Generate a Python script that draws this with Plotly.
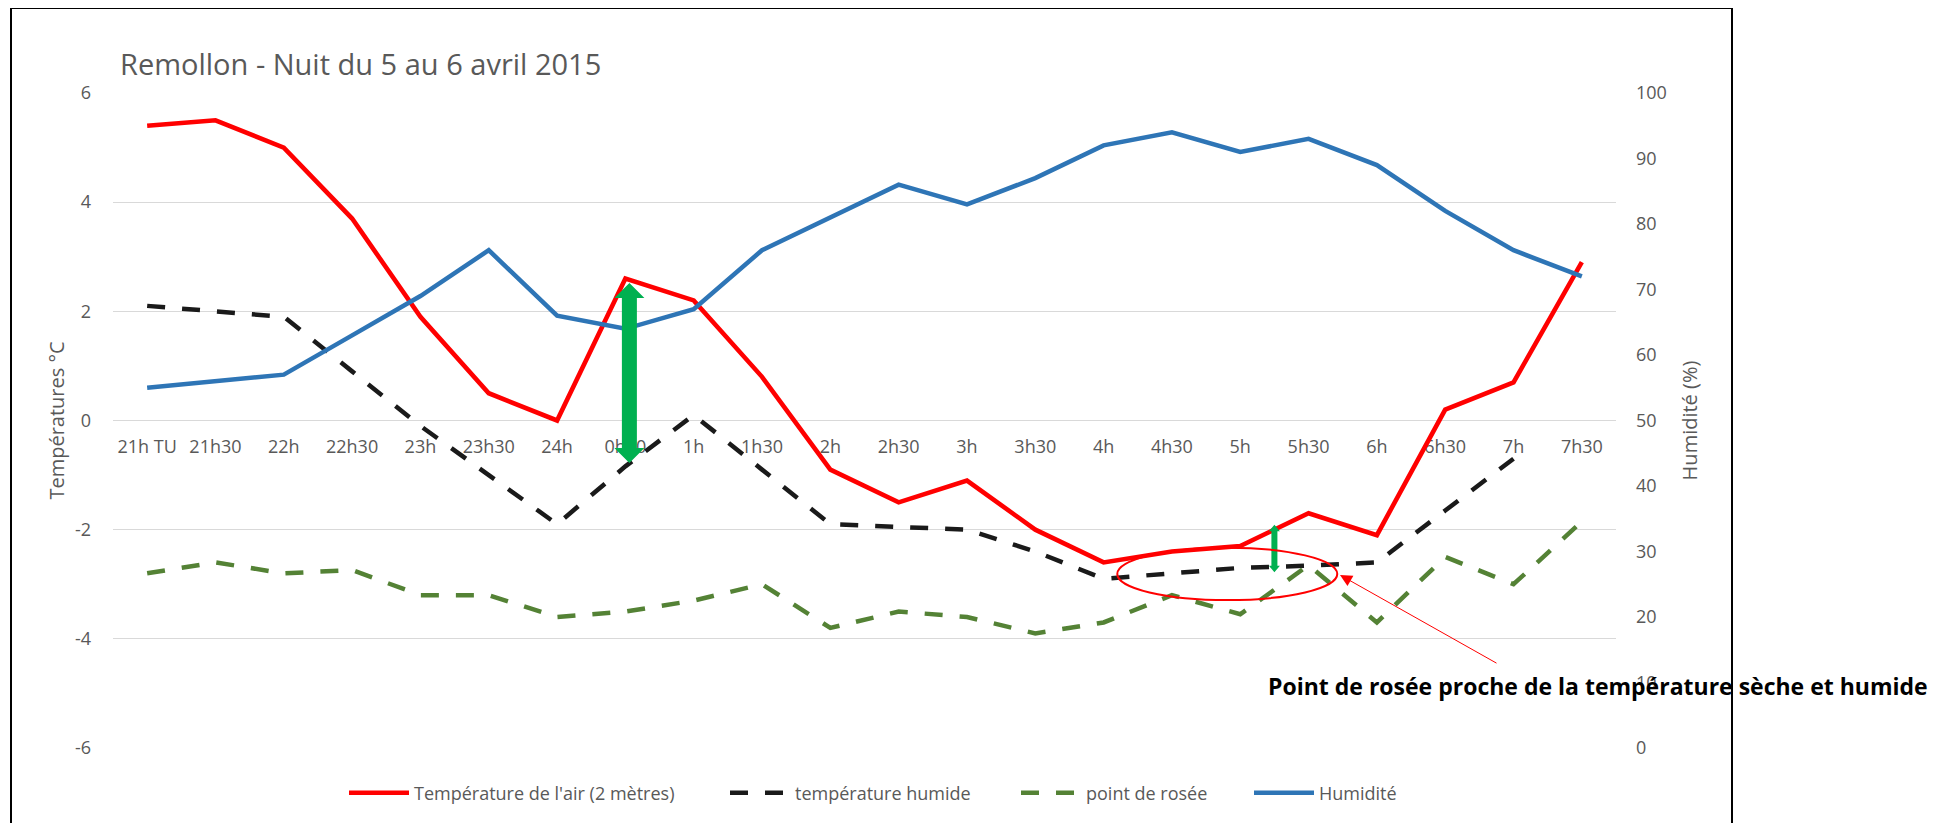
import plotly.graph_objects as go

# ---------------- data ----------------
categories = ["21h TU", "21h30", "22h", "22h30", "23h", "23h30", "24h", "0h30", "1h", "1h30",
              "2h", "2h30", "3h", "3h30", "4h", "4h30", "5h", "5h30", "6h", "6h30", "7h", "7h30"]
air_temp = [5.4, 5.5, 5.0, 3.7, 1.9, 0.5, 0.0, 2.6, 2.2, 0.8,
            -0.9, -1.5, -1.1, -2.0, -2.6, -2.4, -2.3, -1.7, -2.1, 0.2, 0.7, 2.9]
wet_temp = [2.1, 2.0, 1.9, 0.9, -0.1, -1.0, -1.9, -0.84, 0.1, -0.9,
            -1.9, -1.95, -2.0, -2.4, -2.9, -2.8, -2.7, -2.66, -2.6, -1.65, -0.7, None]
dew_point = [-2.8, -2.6, -2.8, -2.74, -3.2, -3.2, -3.6, -3.5, -3.3, -3.0,
             -3.8, -3.5, -3.6, -3.9, -3.7, -3.2, -3.55, -2.65, -3.7, -2.5, -3.0, -1.85]
humidity = [55, 56, 57, 63, 69, 76, 66, 64, 67, 76,
            81, 86, 83, 87, 92, 94, 91, 93, 89, 82, 76, 72]

temp_ticks = [-6, -4, -2, 0, 2, 4, 6]
temp_tick_labels = ["-6", "-4", "-2", "0", "2", "4", "6"]
hum_ticks = [0, 10, 20, 30, 40, 50, 60, 70, 80, 90, 100]

names = ["Température de l'air (2 mètres)", "température humide", "point de rosée", "Humidité"]
title_text = "Remollon - Nuit du 5 au 6 avril 2015"
note_text = "Point de rosée proche de la température sèche et humide"

# ---------------- layout geometry (page pixels) ----------------
OFF = 8                      # default page body margin
W, H = 1955 - OFF, 823 - OFF
L, R, T, B = 113, 1616, 93, 748   # plot area in page pixels
PW, PH = R - L, B - T


def px(x):
    return (x - L) / PW


def py(y):
    return (B - y) / PH


GRAY = "#595959"
FONT = "Open Sans"

fig = go.Figure()

fig.add_trace(go.Scatter(x=categories, y=air_temp, mode="lines", name=names[0],
                         line=dict(color="#FF0000", width=4.6), legend="legend"))
fig.add_trace(go.Scatter(x=categories, y=wet_temp, mode="lines", name=names[1],
                         line=dict(color="#1a1a1a", width=4.5, dash="18px,17px"), legend="legend2"))
fig.add_trace(go.Scatter(x=categories, y=dew_point, mode="lines", name=names[2],
                         line=dict(color="#548235", width=4.5, dash="18px,17px"), legend="legend3"))
fig.add_trace(go.Scatter(x=categories, y=humidity, mode="lines", name=names[3], yaxis="y2",
                         line=dict(color="#2E75B6", width=4.5), legend="legend4"))

shapes = []

# big green double arrow at 0h30 (from air temperature down to wet temperature)
i0 = categories.index("0h30")
top = air_temp[i0] - 0.08
bot = wet_temp[i0] + 0.06
hl = 15 / 54.54
sw, hw, dx = 7.5, 15, 4
shapes.append(dict(
    type="path", xref="x", yref="y", xsizemode="pixel", xanchor=i0, layer="above",
    path=(f"M{dx-sw},{top-hl} L{dx-hw},{top-hl} L{dx},{top} L{dx+hw},{top-hl} L{dx+sw},{top-hl} "
          f"L{dx+sw},{bot+hl} L{dx+hw},{bot+hl} L{dx},{bot} L{dx-hw},{bot+hl} L{dx-sw},{bot+hl} Z"),
    fillcolor="#00B050", line=dict(width=0)))

# small green double arrow between 5h and 5h30
j = categories.index("5h")
xa = j + 0.5
top2 = (air_temp[j] + air_temp[j + 1]) / 2 + 0.09
bot2 = (wet_temp[j] + wet_temp[j + 1]) / 2 - 0.1
hl2 = 6.5 / 54.54
sw2, hw2 = 3, 5.5
shapes.append(dict(
    type="path", xref="x", yref="y", xsizemode="pixel", xanchor=xa, layer="above",
    path=(f"M{-sw2},{top2-hl2} L{-hw2},{top2-hl2} L0,{top2} L{hw2},{top2-hl2} L{sw2},{top2-hl2} "
          f"L{sw2},{bot2+hl2} L{hw2},{bot2+hl2} L0,{bot2} L{-hw2},{bot2+hl2} L{-sw2},{bot2+hl2} Z"),
    fillcolor="#00B050", line=dict(width=0)))

# red ellipse highlighting the zone
shapes.append(dict(type="circle", xref="x", yref="y", x0=14.2, x1=17.42, y0=-3.29, y1=-2.33,
                   line=dict(color="#FF0000", width=2), layer="above"))

# outer frame
shapes.append(dict(type="rect", xref="paper", yref="paper",
                   x0=px(11), x1=px(1732), y0=py(840), y1=py(8),
                   line=dict(color="black", width=2), fillcolor="rgba(0,0,0,0)", layer="above"))

annotations = [
    dict(x=17.46, y=-2.83, xref="x", yref="y", ax=158, ay=89, axref="pixel", ayref="pixel",
         text="", showarrow=True, arrowhead=2, arrowsize=2.4, arrowwidth=1, arrowcolor="#FF0000"),
    dict(x=px(1266), y=py(686), xref="paper", yref="paper", xanchor="left", yanchor="middle",
         text=f"<b>{note_text}</b>", showarrow=False,
         font=dict(family=FONT, size=23, color="black")),
]

legend_common = dict(orientation="h", yanchor="middle", xanchor="left", y=py(793),
                     font=dict(family=FONT, size=18, color=GRAY), bgcolor="rgba(0,0,0,0)",
                     itemwidth=60)

fig.update_layout(
    width=W, height=H,
    margin=dict(l=L - OFF, r=W - (R - OFF), t=T - OFF, b=H - (B - OFF), autoexpand=False),
    paper_bgcolor="white", plot_bgcolor="white",
    font=dict(family=FONT, color=GRAY),
    showlegend=True,
    title=dict(text=title_text, x=px(120), xref="paper", xanchor="left",
               y=1 - (65 - OFF) / H, yref="container", yanchor="middle",
               font=dict(family=FONT, size=29, color=GRAY)),
    xaxis=dict(type="category", categoryorder="array", categoryarray=categories,
               range=[-0.5, len(categories) - 0.5], anchor="free", position=0.5,
               showgrid=False, showline=False, zeroline=False, ticks="",
               tickfont=dict(family=FONT, size=18, color=GRAY), ticklabelstandoff=13,
               layer="below traces"),
    yaxis=dict(range=[-6, 6], tickvals=temp_ticks, ticktext=temp_tick_labels,
               showgrid=True, gridcolor="#D9D9D9", gridwidth=1.3,
               zeroline=False, showline=False, ticks="",
               tickfont=dict(family=FONT, size=18, color=GRAY), ticklabelstandoff=21,
               title=dict(text="Températures °C", font=dict(family=FONT, size=20, color=GRAY), standoff=4),
               automargin=False),
    yaxis2=dict(range=[0, 100], tickvals=hum_ticks, overlaying="y", side="right",
                showgrid=False, zeroline=False, showline=False, ticks="",
                tickfont=dict(family=FONT, size=18, color=GRAY), ticklabelstandoff=19,
                title=dict(text="Humidité (%)", font=dict(family=FONT, size=20, color=GRAY), standoff=17),
                automargin=False),
    legend=dict(legend_common, x=px(344)),
    legend2=dict(legend_common, x=px(725)),
    legend3=dict(legend_common, x=px(1016)),
    legend4=dict(legend_common, x=px(1249)),
    shapes=shapes,
    annotations=annotations,
)

fig.write_html("out.html")
